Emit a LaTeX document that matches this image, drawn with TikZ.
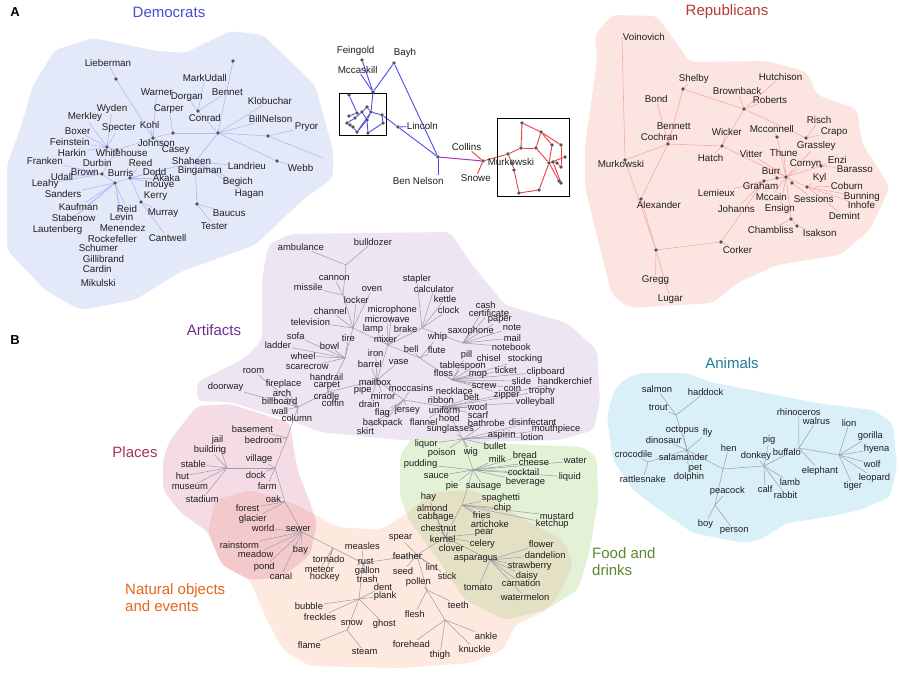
\documentclass[tikz,border=0pt]{standalone}
\usepackage{fontspec}
\setmainfont{Liberation Sans}
\pgfdeclarelayer{blobs}
\pgfdeclarelayer{edges}
\pgfsetlayers{blobs,edges,main}
\definecolor{demfill}{HTML}{E3E9F9}
\definecolor{repfill}{HTML}{FCE5E1}
\definecolor{artfill}{HTML}{EDE5F1}
\definecolor{animfill}{HTML}{D9F0F9}
\definecolor{placefill}{HTML}{F4DBE5}
\definecolor{natfill}{HTML}{FDE9DD}
\definecolor{foodfill}{HTML}{E3F1D7}
\definecolor{ovPN}{HTML}{F3C9CC}
\definecolor{ovFN}{HTML}{E4E0C4}
\definecolor{demedge}{HTML}{B6B6F4}
\definecolor{repedge}{HTML}{F6AAAA}
\definecolor{midblue}{HTML}{4B4BF0}
\definecolor{midred}{HTML}{F03C3C}
\definecolor{midpurple}{HTML}{B030C0}
\definecolor{greyedge}{HTML}{9C9CA6}
\definecolor{demtitle}{HTML}{4A4AD6}
\definecolor{reptitle}{HTML}{B53A3A}
\definecolor{arttitle}{HTML}{6E2E8C}
\definecolor{placetitle}{HTML}{A8325E}
\definecolor{nattitle}{HTML}{E3661A}
\definecolor{foodtitle}{HTML}{5B8A2E}
\definecolor{animtitle}{HTML}{1E7F9E}
\newcommand\lw[2]{\node[lab] (#2) at (#1) {#2};}
\newcommand\lwn[3]{\node[lab] (#1) at (#2) {#3};}
\newcommand\dt[2]{\node[dotn] (#1) at (#2) {};}
\newcommand\fan[2]{\foreach \nn in {#2}{\draw (#1) -- (\nn);}}
\newcommand\natpath{(215,500) -- (250,490) -- (297,505) -- (337,527) -- (380,530) -- (405,515) -- (433,492) -- (475,490) -- (525,520) -- (563,540) -- (573,562) -- (563,588) -- (547,610) -- (515,625) -- (503,650) -- (470,663) -- (400,668) -- (310,666) -- (283,650) -- (267,620) -- (250,580) -- (222,565) -- (208,532) -- cycle}
\newcommand\placepath{(170,440) -- (197,406) -- (230,404) -- (262,414) -- (290,423) -- (294,450) -- (298,472) -- (308,497) -- (317,523) -- (310,555) -- (282,577) -- (250,580) -- (222,565) -- (208,532) -- (180,512) -- (163,490) -- (163,460) -- cycle}
\newcommand\foodpath{(400,455) -- (413,437) -- (490,443) -- (583,447) -- (597,458) -- (598,500) -- (590,550) -- (578,590) -- (545,610) -- (505,620) -- (465,600) -- (440,562) -- (410,522) -- (400,497) -- cycle}
\begin{document}
\begin{tikzpicture}[x=1pt,y=-1pt,
  lab/.style={font=\fontsize{9.8}{10}\selectfont, inner sep=0.6pt, anchor=west, text=black!88},
  dotn/.style={circle, fill=black!68, inner sep=0pt, minimum size=3.6pt},
  ttl/.style={font=\fontsize{15}{17}\selectfont, inner sep=0pt},
  panel/.style={font=\bfseries\fontsize{13}{13}\selectfont, inner sep=0pt},
  boxn/.style={draw=black, line width=1pt, inner sep=0pt}]
\useasboundingbox (0,0) rectangle (900,680);

% ---------------- blobs ----------------
\begin{pgfonlayer}{blobs}
\fill[white] (0,0) rectangle (900,680);
\fill[demfill, rounded corners=6pt] (55,50) -- (93,38) -- (157,51) -- (185,53) -- (230,31) -- (263,35) -- (315,85) -- (333,150) -- (333,178) -- (305,198) -- (255,245) -- (180,272) -- (135,300) -- (80,310) -- (45,290) -- (7,250) -- (7,165) -- (20,130) -- (33,85) -- cycle;
\fill[repfill, rounded corners=6pt] (595,35) -- (612,15) -- (657,16) -- (690,62) -- (767,61) -- (807,72) -- (817,95) -- (857,109) -- (862,143) -- (890,187) -- (870,230) -- (840,255) -- (777,265) -- (737,283) -- (713,303) -- (630,308) -- (612,295) -- (598,240) -- (585,187) -- (585,147) -- (597,60) -- cycle;
\fill[artfill, rounded corners=6pt] (268,245) -- (290,234) -- (450,232) -- (470,262) -- (505,305) -- (567,323) -- (597,350) -- (600,400) -- (594,430) -- (560,440) -- (480,442) -- (400,440) -- (320,432) -- (290,420) -- (262,412) -- (230,402) -- (197,401) -- (197,382) -- (245,358) -- (262,340) -- (262,280) -- cycle;
\fill[animfill, rounded corners=6pt] (613,393) -- (623,380) -- (640,373) -- (687,373) -- (710,382) -- (817,403) -- (873,410) -- (893,423) -- (897,467) -- (890,497) -- (860,510) -- (827,517) -- (787,523) -- (760,540) -- (743,543) -- (693,533) -- (650,503) -- (633,490) -- (613,460) -- (607,417) -- cycle;
\fill[natfill, rounded corners=6pt] \natpath;
\fill[placefill, rounded corners=6pt] \placepath;
\fill[foodfill, rounded corners=6pt] \foodpath;
\begin{scope}
\clip[rounded corners=6pt] \natpath;
\fill[ovPN, rounded corners=6pt] \placepath;
\fill[ovFN, rounded corners=6pt] \foodpath;
\end{scope}
\end{pgfonlayer}

% ---------------- titles ----------------
\node[panel] (panA) at (15,12) {A};
\node[panel] (panB) at (15,340) {B};
\node[ttl, text=demtitle] (tDem) at (169,12) {Democrats};
\node[ttl, text=reptitle] (tRep) at (727,12) {Republicans};
\node[ttl, text=arttitle] (tArt) at (214,330) {Artifacts};
\node[ttl, text=placetitle] (tPla) at (135,452) {Places};
\node[ttl, text=nattitle, align=left, anchor=west] (tNat) at (125,598) {Natural objects\\and events};
\node[ttl, text=foodtitle, align=left, anchor=west] (tFood) at (592,562) {Food and\\drinks};
\node[ttl, text=animtitle] (tAni) at (732,363) {Animals};

% ---------------- Democrats ----------------
\lw{84,63}{Lieberman}
\lw{182,78}{MarkUdall}
\lw{140,92}{Warner}
\lw{170,97}{Dorgan}
\lw{211,92}{Bennet}
\lw{247,101}{Klobuchar}
\lw{96,109}{Wyden}
\lw{153,109}{Carper}
\lw{188,118}{Conrad}
\lw{67,117}{Merkley}
\lw{248,119}{BillNelson}
\lw{294,127}{Pryor}
\lw{101,128}{Specter}
\lw{139,125}{Kohl}
\lw{64,131}{Boxer}
\lw{49,142}{Feinstein}
\lw{137,143}{Johnson}
\lw{57,153}{Harkin}
\lw{95,153}{Whitehouse}
\lw{161,150}{Casey}
\lw{26,161}{Franken}
\lw{82,163}{Durbin}
\lw{128,163}{Reed}
\lw{171,161}{Shaheen}
\lw{227,166}{Landrieu}
\lw{287,168}{Webb}
\lw{70,172}{Brown}
\lw{107,173}{Burris}
\lw{142,172}{Dodd}
\lw{177,171}{Bingaman}
\lw{50,177}{Udall}
\lw{152,178}{Akaka}
\lw{31,184}{Leahy}
\lw{144,185}{Inouye}
\lw{222,182}{Begich}
\lw{44,194}{Sanders}
\lw{143,196}{Kerry}
\lw{234,194}{Hagan}
\lw{58,207}{Kaufman}
\lw{116,209}{Reid}
\lw{147,213}{Murray}
\lw{212,213}{Baucus}
\lw{51,218}{Stabenow}
\lw{109,217}{Levin}
\lw{200,226}{Tester}
\lw{32,230}{Lautenberg}
\lw{99,228}{Menendez}
\lw{148,238}{Cantwell}
\lw{87,239}{Rockefeller}
\lw{78,248}{Schumer}
\lw{82,259}{Gillibrand}
\lw{82,269}{Cardin}
\lw{80,283}{Mikulski}
\dt{dL}{116,79} \dt{dT}{233,61} \dt{dC}{198,111} \dt{dH}{218,133} \dt{dP}{268,136}
\dt{dCa}{173,133} \dt{dJ}{153,138} \dt{dW1}{107,147} \dt{dW2}{117,150} \dt{dB}{102,174}
\dt{dBu}{115,183} \dt{dD}{130,178} \dt{dK}{141,202} \dt{dBa}{197,204} \dt{dWe}{277,161}
\coordinate (dS) at (195,162);
\coordinate (dR) at (323,158);

% ---------------- middle ----------------
\lw{336,51}{Feingold}
\lw{393,53}{Bayh}
\lw{337,70}{Mccaskill}
\lw{406,126}{Lincoln}
\lwn{BenNelson}{392,181}{Ben Nelson}
\lw{451,147}{Collins}
\lwn{MurkowskiM}{487,162}{Murkowski}
\lw{460,178}{Snowe}
\node[boxn, minimum width=47pt, minimum height=42pt] (box1) at (362.5,114) {};
\node[boxn, minimum width=72pt, minimum height=78pt] (box2) at (533,157) {};
\dt{mF}{362,60} \dt{mB}{394,63} \dt{mJ}{373,92} \dt{mLi}{398,127} \dt{mH}{438,157} \dt{mMu}{483,161}
\dt{p1}{349,95} \dt{p2}{367,107} \dt{p3}{371,112} \dt{p4}{362,112} \dt{p5}{357,113}
\dt{p6}{382,115} \dt{p7}{349,116} \dt{p8}{355,118} \dt{p9}{367,120} \dt{p10}{347,123}
\dt{p11}{350,125} \dt{p12}{353,127} \dt{p13}{383,123} \dt{p14}{357,132} \dt{p15}{368,133}
\dt{q1}{522,123} \dt{q2}{541,132} \dt{q3}{552,145} \dt{q4}{561,145} \dt{q5}{521,148}
\dt{q6}{536,148} \dt{q7}{508,154} \dt{q8}{512,163} \dt{q9}{514,170} \dt{q10}{549,163}
\dt{q11}{553,162} \dt{q12}{557,163} \dt{q13}{561,167} \dt{q14}{565,157} \dt{q15}{559,181}
\dt{q16}{561,183} \dt{q17}{539,190} \dt{q18}{519,193}
\coordinate (mBN) at (438,175);

% ---------------- Republicans ----------------
\lw{622,37}{Voinovich}
\lw{678,79}{Shelby}
\lw{758,77}{Hutchison}
\lw{712,91}{Brownback}
\lw{644,99}{Bond}
\lw{752,100}{Roberts}
\lw{806,120}{Risch}
\lw{656,126}{Bennett}
\lw{749,129}{Mcconnell}
\lw{820,132}{Crapo}
\lw{711,132}{Wicker}
\lw{640,137}{Cochran}
\lw{796,146}{Grassley}
\lwn{MurkowskiR}{597,164}{Murkowski}
\lw{697,158}{Hatch}
\lw{739,154}{Vitter}
\lw{769,153}{Thune}
\lw{827,160}{Enzi}
\lw{789,164}{Cornyn}
\lw{836,169}{Barasso}
\lw{761,171}{Burr}
\lw{812,178}{Kyl}
\lw{742,186}{Graham}
\lw{830,186}{Coburn}
\lw{697,193}{Lemieux}
\lw{755,197}{Mccain}
\lw{793,199}{Sessions}
\lw{843,197}{Bunning}
\lw{847,205}{Inhofe}
\lw{636,205}{Alexander}
\lw{717,209}{Johanns}
\lw{764,209}{Ensign}
\lw{828,216}{Demint}
\lw{747,230}{Chambliss}
\lw{802,233}{Isakson}
\lw{722,250}{Corker}
\lw{641,280}{Gregg}
\lw{657,299}{Lugar}
\dt{rM}{625,160} \dt{rCo}{668,144} \dt{rSh}{683,89} \dt{rRo}{744,109} \dt{rRi}{806,138}
\dt{rWi}{722,146} \dt{rMc}{777,137} \dt{rCy}{786,177} \dt{rBu}{777,178} \dt{rEn}{821,166}
\dt{rGr}{764,181} \dt{rSe}{792,183} \dt{rKy}{807,187} \dt{rCh}{791,219} \dt{rIs}{797,226}
\dt{rAl}{641,199} \dt{rHub}{656,250} \dt{rCk}{721,242}

% ---------------- Panel B labels ----------------
\begin{scope}[lab/.style={font=\fontsize{9.4}{10}\selectfont, inner sep=0.6pt, anchor=west, text=black!88}]
% artifacts
\lw{277,247}{ambulance} \lw{353,242}{bulldozer} \lw{318,278}{cannon} \lw{293,287}{missile}
\lw{402,279}{stapler} \lw{361,289}{oven} \lw{413,289}{calculator} \lw{343,300}{locker}
\lw{433,299}{kettle} \lw{313,311}{channel} \lw{367,310}{microphone} \lw{437,310}{clock}
\lw{290,322}{television} \lw{364,319}{microwave} \lw{362,329}{lamp} \lw{393,329}{brake}
\lw{286,336}{sofa} \lw{341,338}{tire} \lw{373,339}{mixer} \lw{427,337}{whip}
\lw{264,345}{ladder} \lw{319,346}{bowl} \lw{403,349}{bell} \lw{427,350}{flute}
\lw{367,353}{iron} \lw{290,356}{wheel} \lw{447,331}{saxophone} \lw{285,367}{scarecrow}
\lw{242,371}{room} \lw{357,364}{barrel} \lw{388,362}{vase} \lw{309,377}{handrail}
\lw{207,387}{doorway} \lw{265,384}{fireplace} \lw{313,385}{carpet} \lw{358,382}{mailbox}
\lw{353,390}{pipe} \lw{388,388}{moccasins} \lw{272,393}{arch} \lw{313,396}{cradle}
\lw{370,396}{mirror} \lw{261,401}{billboard} \lw{321,403}{coffin} \lw{358,404}{drain}
\lw{271,411}{wall} \lw{374,413}{flag} \lw{394,410}{jersey} \lw{281,418}{column}
\lw{362,423}{backpack} \lw{356,431}{skirt} \lw{409,422}{flannel}
\lw{475,305}{cash} \lw{468,313}{certificate} \lw{487,320}{paper} \lw{502,328}{note}
\lw{503,338}{mail} \lw{491,347}{notebook} \lw{460,355}{pill} \lw{476,358}{chisel}
\lw{507,359}{stocking} \lw{439,366}{tablespoon} \lw{433,373}{floss} \lw{468,375}{mop}
\lw{494,370}{ticket} \lw{526,372}{clipboard} \lw{511,381}{slide} \lw{537,381}{handkerchief}
\lw{471,386}{screw} \lw{503,388}{coin} \lw{528,391}{trophy} \lw{435,391}{necklace}
\lw{493,395}{zipper} \lw{427,400}{ribbon} \lw{463,397}{belt} \lw{515,402}{volleyball}
\lw{428,410}{uniform} \lw{467,407}{wool} \lw{438,418}{hood} \lw{467,415}{scarf}
\lw{508,422}{disinfectant} \lw{467,423}{bathrobe} \lw{426,429}{sunglasses} \lw{531,429}{mouthpiece}
\lw{487,435}{aspirin} \lw{520,437}{lotion}
% food
\lw{414,444}{liquor} \lw{483,446}{bullet} \lw{427,453}{poison} \lw{463,452}{wig}
\lw{488,459}{milk} \lw{512,455}{bread} \lw{563,461}{water} \lw{403,464}{pudding}
\lw{518,462}{cheese} \lw{507,472}{cocktail} \lw{423,476}{sauce} \lw{558,477}{liquid}
\lw{445,486}{pie} \lw{465,487}{sausage} \lw{505,482}{beverage} \lw{420,497}{hay}
\lw{481,498}{spaghetti} \lw{416,508}{almond} \lw{493,508}{chip} \lw{539,516}{mustard}
\lw{417,517}{cabbage} \lw{472,515}{fries} \lw{470,524}{artichoke} \lw{535,524}{ketchup}
\lw{420,528}{chestnut} \lw{474,533}{pear} \lw{429,539}{kernel} \lw{469,544}{celery}
\lw{528,544}{flower} \lw{438,548}{clover} \lw{524,555}{dandelion} \lw{453,559}{asparagus}
\lw{507,566}{strawberry} \lw{515,576}{daisy} \lw{501,583}{carnation} \lw{463,588}{tomato}
\lw{500,597}{watermelon}
% natural
\lw{388,538}{spear} \lw{392,556}{feather} \lw{392,571}{seed} \lw{425,567}{lint}
\lw{437,576}{stick} \lw{405,582}{pollen} \lw{447,605}{teeth} \lw{404,614}{flesh}
\lw{392,644}{forehead} \lw{429,655}{thigh} \lw{474,636}{ankle} \lw{458,649}{knuckle}
\lw{312,559}{tornado} \lw{344,546}{measles} \lw{304,570}{meteor} \lw{309,577}{hockey}
\lw{357,562}{rust} \lw{354,571}{gallon} \lw{356,579}{trash} \lw{373,587}{dent}
\lw{373,596}{plank} \lw{294,606}{bubble} \lw{303,617}{freckles} \lw{340,623}{snow}
\lw{372,624}{ghost} \lw{297,645}{flame} \lw{351,652}{steam}
% places
\lw{231,429}{basement} \lw{211,440}{jail} \lw{244,440}{bedroom} \lw{193,450}{building}
\lw{245,459}{village} \lw{180,464}{stable} \lw{175,476}{hut} \lw{245,475}{dock}
\lw{171,487}{museum} \lw{257,486}{farm} \lw{185,499}{stadium} \lw{265,499}{oak}
\lw{235,508}{forest} \lw{238,519}{glacier} \lw{251,528}{world} \lw{285,529}{sewer}
\lw{219,545}{rainstorm} \lw{237,554}{meadow} \lw{292,550}{bay} \lw{253,567}{pond}
\lw{269,576}{canal}
% animals
\lw{641,389}{salmon} \lw{687,392}{haddock} \lw{648,408}{trout} \lw{776,412}{rhinoceros}
\lw{802,421}{walrus} \lw{841,423}{lion} \lw{665,430}{octopus} \lw{702,433}{fly}
\lw{857,436}{gorilla} \lw{645,440}{dinosaur} \lw{762,440}{pig} \lw{720,448}{hen}
\lw{863,449}{hyena} \lw{772,452}{buffalo} \lw{614,454}{crocodile} \lw{658,457}{salamander}
\lw{740,456}{donkey} \lw{863,464}{wolf} \lw{688,468}{pet} \lw{801,471}{elephant}
\lw{673,477}{dolphin} \lw{619,479}{rattlesnake} \lw{858,478}{leopard} \lw{779,482}{lamb}
\lw{843,486}{tiger} \lw{709,491}{peacock} \lw{757,489}{calf} \lw{773,495}{rabbit}
\lw{697,524}{boy} \lw{719,531}{person}
\end{scope}

% B junctions
\coordinate (j1) at (346,265); \coordinate (j2) at (343,295); \coordinate (j3) at (353,328);
\coordinate (j15) at (345,358); \coordinate (j4) at (388,345); \coordinate (j5) at (422,328);
\coordinate (j6) at (420,358); \coordinate (j7) at (463,343); \coordinate (j8) at (452,380);
\coordinate (j9) at (377,380); \coordinate (j11) at (328,392); \coordinate (j10) at (404,400);
\coordinate (j12) at (445,407); \coordinate (j13) at (463,439); \coordinate (j14) at (298,407);
\coordinate (j16) at (287,438); \coordinate (j17) at (275,468); \coordinate (j18) at (227,468);
\coordinate (j19) at (285,502); \coordinate (j20) at (302,532); \coordinate (j22) at (333,548);
\coordinate (j21) at (363,563); \coordinate (j23) at (359,599); \coordinate (j25) at (347,630);
\coordinate (j24) at (417,555); \coordinate (j26) at (427,590); \coordinate (j28) at (445,620);
\coordinate (j27) at (445,537); \coordinate (j29) at (490,560); \coordinate (j30) at (462,505);
\coordinate (j31) at (473,470);
\coordinate (a1) at (676,415); \coordinate (a2) at (687,450); \coordinate (a3) at (648,462);
\coordinate (a4) at (723,469); \coordinate (a5) at (715,505); \coordinate (a6) at (764,466);
\coordinate (a7) at (799,448); \coordinate (a8) at (839,455);

% ---------------- edges ----------------
\begin{pgfonlayer}{edges}
\begin{scope}[color=demedge, line width=0.6pt]
\draw (dL) -- (Lieberman); \draw (dL) -- (dJ);
\fan{dH}{dT,Klobuchar,BillNelson,dP,dC,dCa,dS,dWe}
\fan{dP}{Pryor,dR}
\fan{dC}{MarkUdall,Bennet,Dorgan}
\fan{dCa}{Carper,dJ}
\fan{dJ}{Warner,Kohl,Johnson,dW2,Casey}
\fan{dS}{Shaheen,Landrieu,Begich,Hagan,Bingaman,dBa,dD}
\fan{dBa}{Baucus,Tester}
\fan{dWe}{Webb}
\fan{dW2}{dW1,Whitehouse,dB}
\fan{dW1}{Wyden,Merkley,Specter,Boxer,Feinstein,Harkin,Durbin}
\fan{dB}{Franken,Udall,Leahy,Brown,dBu}
\fan{dBu}{Sanders,Kaufman,Stabenow,Lautenberg,Menendez,Levin,Reid,dD}
\fan{dD}{Reed,Dodd,Akaka,Inouye,dK}
\fan{dK}{Kerry,Murray,Cantwell}
\end{scope}
\begin{scope}[color=midblue, line width=0.9pt]
\fan{mJ}{mF,mB,Mccaskill,p3}
\fan{mH}{mB,mLi,mBN}
\draw (mLi) -- (Lincoln);
\draw (p1) -- (p5); \draw (p2) -- (p3); \draw (p3) -- (p6); \draw (p6) -- (p13);
\draw (p2) -- (p4); \draw (p4) -- (p8); \draw (p5) -- (p7); \draw (p8) -- (p10);
\draw (p10) -- (p11); \draw (p11) -- (p12); \draw (p12) -- (p14); \draw (p14) -- (p9);
\draw (p9) -- (p15); \draw (p15) -- (p13); \draw (p3) -- (p14); \draw (p6) -- (mLi);
\draw (p4) -- (p9); \draw (p9) -- (p3);
\end{scope}
\draw[midpurple, line width=1pt] (mH) -- (mMu);
\begin{scope}[color=midred, line width=0.9pt]
\fan{mMu}{Collins,Snowe,q7}
\draw (q7) -- (q5); \draw (q5) -- (q6); \draw (q5) -- (q1); \draw (q1) -- (q2);
\draw (q2) -- (q6); \draw (q2) -- (q3); \draw (q2) -- (q4); \draw (q4) -- (q13);
\draw (q3) -- (q10); \draw (q6) -- (q10); \draw (q10) -- (q14); \draw (q10) -- (q15);
\draw (q11) -- (q16); \draw (q12) -- (q13); \draw (q7) -- (q8); \draw (q8) -- (q9);
\draw (q9) -- (q18); \draw (q18) -- (q17); \draw (q17) -- (q10);
\end{scope}
\begin{scope}[color=repedge, line width=0.6pt]
\draw (Voinovich.west) -- (rM);
\fan{rM}{rCo,rHub}
\fan{rCo}{Bond,Bennett,rSh,rWi,rAl}
\fan{rSh}{Shelby,rRo}
\fan{rRo}{Hutchison,Brownback,Roberts,rWi,rRi}
\fan{rRi}{Risch,Crapo}
\fan{rWi}{Wicker,Hatch,rCy}
\fan{rMc}{Mcconnell,rCy}
\fan{rCy}{Thune,Grassley,Vitter,rBu,Cornyn,rEn,rGr,rSe,rKy,rCh,Mccain,Ensign}
\fan{rBu}{Burr}
\fan{rEn}{Enzi,Barasso}
\fan{rGr}{Graham,Lemieux,Johanns,rCk}
\fan{rKy}{Kyl,Coburn,Bunning,Inhofe,Demint}
\fan{rSe}{Sessions}
\fan{rCh}{Chambliss,rIs}
\fan{rIs}{Isakson}
\fan{rHub}{rAl,rCk,Gregg,Lugar}
\fan{rCk}{Corker}
\end{scope}
\begin{scope}[color=greyedge, line width=0.5pt]
\fan{j1}{ambulance,bulldozer,j2}
\fan{j2}{cannon,missile,j3}
\fan{j3}{locker,oven,channel,television,j15,j4}
\fan{j15}{tire,bowl,sofa,ladder,wheel,scarecrow,j11}
\fan{j4}{microwave,lamp,mixer,brake,microphone,j5,j6,j9}
\fan{j5}{stapler,calculator,kettle,clock,j7}
\fan{j6}{bell,whip,flute,j8}
\fan{j7}{saxophone,cash,certificate,paper,note,mail,notebook}
\fan{j8}{pill,chisel,tablespoon,floss,mop,ticket,slide,screw,coin,zipper,stocking,clipboard}
\fan{j9}{mailbox,iron,barrel,vase,pipe,mirror,drain,j11,j10}
\fan{j11}{handrail,carpet,cradle,coffin,j14}
\fan{j10}{moccasins,jersey,flag,backpack,skirt,j12}
\fan{j12}{necklace,ribbon,uniform,belt,wool,hood,scarf,flannel,trophy,handkerchief,volleyball,j13}
\fan{j13}{sunglasses,bathrobe,disinfectant,mouthpiece,aspirin,lotion,liquor,poison,wig,bullet,j31}
\fan{j14}{room,doorway,fireplace,arch,billboard,wall,column,j16}
\fan{j16}{basement,bedroom,j17}
\fan{j17}{village,dock,farm,j18,j19}
\fan{j18}{jail,building,stable,hut,museum,stadium}
\fan{j19}{oak,forest,glacier,j20}
\fan{j20}{sewer,world,rainstorm,meadow,bay,pond,canal,j22}
\fan{j22}{tornado,meteor,hockey,j21}
\fan{j21}{measles,rust,gallon,trash,j23,j24}
\fan{j23}{bubble,freckles,ghost,dent,plank,j25}
\fan{j25}{snow,flame,steam}
\fan{j24}{spear,feather,seed,lint,stick,j26,j27}
\fan{j26}{pollen,flesh,teeth,j28}
\fan{j28}{forehead,thigh,knuckle,ankle}
\fan{j27}{hay,almond,cabbage,chestnut,kernel,clover,celery,pear,j29,j30}
\fan{j29}{asparagus,flower,dandelion,strawberry,daisy,carnation,tomato,watermelon}
\fan{j30}{chip,fries,artichoke,mustard,ketchup,spaghetti,j31}
\fan{j31}{sauce,pie,sausage,milk,bread,cheese,cocktail,beverage,water,liquid,pudding}
\fan{a1}{salmon,haddock,trout,a2}
\fan{a2}{octopus,fly,dinosaur,salamander,pet,dolphin,a3,a4}
\fan{a3}{crocodile,rattlesnake}
\fan{a4}{hen,a5,a6}
\fan{a5}{peacock,boy,person}
\fan{a6}{pig,donkey,lamb,calf,rabbit,a7}
\fan{a7}{rhinoceros,walrus,elephant,buffalo,a8}
\fan{a8}{lion,gorilla,hyena,wolf,leopard,tiger}
\end{scope}
\end{pgfonlayer}
\end{tikzpicture}
\end{document}
